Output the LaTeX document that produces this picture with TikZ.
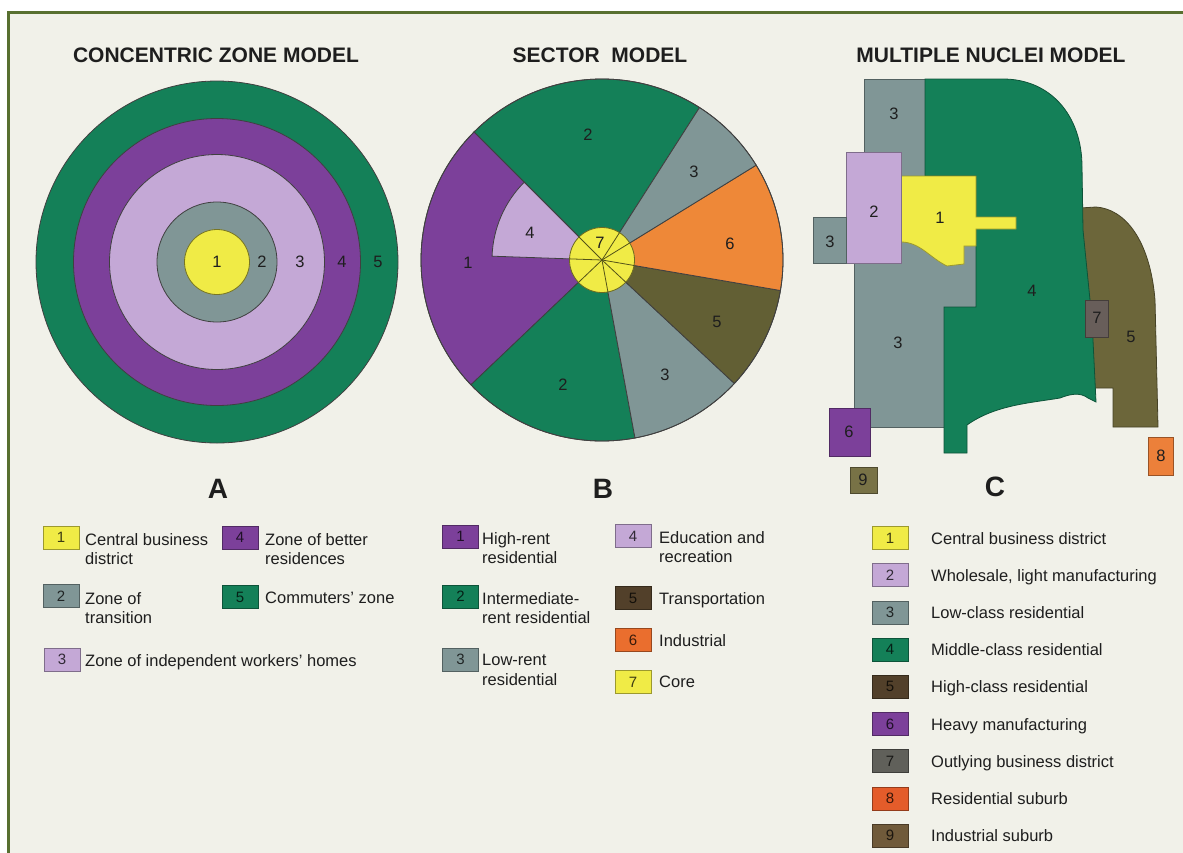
\documentclass[tikz,border=0pt]{standalone}
\usepackage{fontspec}
\setmainfont{Liberation Sans}
\definecolor{paper}{RGB}{241,241,233}
\definecolor{frame}{RGB}{88,112,48}
\definecolor{ink}{RGB}{30,30,30}
\definecolor{cbd}{RGB}{240,235,70}
\definecolor{transit}{RGB}{128,150,150}
\definecolor{lilac}{RGB}{196,168,214}
\definecolor{violet}{RGB}{124,64,154}
\definecolor{forest}{RGB}{20,128,88}
\definecolor{amber}{RGB}{238,136,56}
\definecolor{olivezone}{RGB}{98,95,52}
\definecolor{olivemap}{RGB}{108,102,58}
\definecolor{brownkey}{RGB}{82,64,42}
\definecolor{brownnine}{RGB}{112,90,58}
\definecolor{olivenine}{RGB}{120,114,70}
\definecolor{slate}{RGB}{104,94,90}
\definecolor{slatekey}{RGB}{96,96,90}
\definecolor{suburb}{RGB}{236,128,58}
\definecolor{suburbkey}{RGB}{228,92,42}
\definecolor{orangekey}{RGB}{234,110,46}
\begin{document}
\begin{tikzpicture}[x=1pt,y=-1pt,
  title/.style={font=\bfseries\fontsize{21}{21}\selectfont, text=ink, inner sep=0},
  panel/.style={font=\bfseries\fontsize{28}{28}\selectfont, text=ink, inner sep=0},
  num/.style={font=\fontsize{16.5}{16.5}\selectfont, text=ink, inner sep=0},
  edge/.style={draw=ink!85, line width=0.8pt},
  region/.style={fill=#1, draw=#1!65!black, line width=0.8pt},
  keybox/.style={draw=#1!65!black, line width=0.6pt, fill=#1, minimum width=36pt,
    minimum height=23pt, inner sep=0, font=\fontsize{15}{15}\selectfont, text=#1!25!black},
  keytext/.style={anchor=north west, align=left, inner sep=0,
    font=\fontsize{16.5}{19.5}\selectfont, text=ink},
]
\useasboundingbox (0,0) rectangle (1183,852);
% page and frame
\fill[white] (0,0) rectangle (1183,852);
\fill[paper] (8,12) rectangle (1190,860);
\draw[frame, line width=3pt] (8,860) -- (8,12) -- (1190,12);

% ---------- titles ----------
\node[title] (titleA) at (216,55) {CONCENTRIC ZONE MODEL};
\node[title] (titleB) at (600,55) {SECTOR\ \ MODEL};
\node[title] (titleC) at (991,55) {MULTIPLE NUCLEI MODEL};

% ---------- A: concentric zones ----------
\begin{scope}[shift={(217,262)}]
  \filldraw[edge, fill=forest] (0,0) circle[radius=181];
  \filldraw[edge, fill=violet] (0,0) circle[radius=143.5];
  \filldraw[edge, fill=lilac] (0,0) circle[radius=107.5];
  \filldraw[edge, fill=transit] (0,0) circle[radius=60];
  \filldraw[draw=cbd!50!black, line width=0.8pt, fill=cbd] (0,0) circle[radius=32.5];
\end{scope}
\node[num] (a1) at (217,262) {1};
\node[num] (a2) at (262,262) {2};
\node[num] (a3) at (300,262) {3};
\node[num] (a4) at (342,262) {4};
\node[num] (a5) at (378,262) {5};

% ---------- B: sectors ----------
\begin{scope}[shift={(602,260)}, yscale=-1]
  \filldraw[edge, fill=forest] (0,0) -- (57.4:181) arc[start angle=57.4, end angle=135, radius=181] -- cycle;
  \filldraw[edge, fill=violet] (0,0) -- (135:181) arc[start angle=135, end angle=223.6, radius=181] -- cycle;
  \filldraw[edge, fill=forest] (0,0) -- (223.6:181) arc[start angle=223.6, end angle=280.5, radius=181] -- cycle;
  \filldraw[edge, fill=transit] (0,0) -- (280.5:181) arc[start angle=280.5, end angle=317, radius=181] -- cycle;
  \filldraw[edge, fill=olivezone] (0,0) -- (317:181) arc[start angle=317, end angle=350.3, radius=181] -- cycle;
  \filldraw[edge, fill=amber] (0,0) -- (-9.7:181) arc[start angle=-9.7, end angle=31.6, radius=181] -- cycle;
  \filldraw[edge, fill=transit] (0,0) -- (31.6:181) arc[start angle=31.6, end angle=57.4, radius=181] -- cycle;
  \filldraw[edge, fill=lilac] (0,0) -- (135:110) arc[start angle=135, end angle=178, radius=110] -- cycle;
  \draw[edge] (0,0) circle[radius=181];
  % core with the sector rays running through it
  \filldraw[draw=cbd!45!black, line width=0.8pt, fill=cbd] (0,0) circle[radius=32.5];
  \foreach \a in {57.4,135,178,223.6,280.5,317,350.3,31.6}
    \draw[cbd!35!black, line width=0.8pt] (0,0) -- (\a:32.5);
\end{scope}
\node[num] (b2t) at (588,135) {2};
\node[num] (b3t) at (694,172) {3};
\node[num] (b6)  at (730,244) {6};
\node[num] (b5)  at (717,322) {5};
\node[num] (b3b) at (665,375) {3};
\node[num] (b2b) at (563,385) {2};
\node[num] (b1)  at (468,263) {1};
\node[num] (b4)  at (530,233) {4};
\node[num] (b7)  at (600,243) {7};

% ---------- C: multiple nuclei ----------
\filldraw[region=transit] (864,79) -- (925,79) -- (925,176) -- (976,176) -- (976,307)
  -- (944,307) -- (944,427) -- (854,427) -- (854,200) -- (864,200) -- cycle;
\filldraw[region=olivemap] (1080,208) -- (1096,207) .. controls (1125,209) and (1150,240) .. (1155,300)
  -- (1158,427) -- (1113,427) -- (1113,388) -- (1090,388) -- (1085,300) -- cycle;
\filldraw[region=forest] (925,79) -- (1003,79) .. controls (1050,79) and (1082,115) .. (1082,167)
  -- (1083,230) -- (1092,320) -- (1096,402) -- (1088,398)
  .. controls (1080,392) and (1070,394) .. (1060,398)
  .. controls (1030,403) and (995,405) .. (967,425)
  -- (967,453) -- (944,453) -- (944,307) -- (976,307) -- (976,176) -- (925,176) -- cycle;
\filldraw[region=cbd] (901,176) -- (976,176) -- (976,217) -- (1016,217) -- (1016,229)
  -- (976,229) -- (976,246) -- (964,246) -- (964,264) -- (947,266)
  .. controls (930,258) and (920,242) .. (901,242) -- cycle;
\filldraw[region=lilac] (846,152) rectangle (901,263);
\filldraw[region=transit] (813,217) rectangle (846,263);
\filldraw[region=slate] (1085,300) rectangle (1108,337);
\filldraw[region=violet] (829,408) rectangle (870,456);
\filldraw[region=olivenine] (850,467) rectangle (877,493);
\filldraw[region=suburb] (1148,437) rectangle (1173,475);
\node[num] (c3t) at (894,114) {3};
\node[num] (c2)  at (874,212) {2};
\node[num] (c1)  at (940,218) {1};
\node[num] (c3s) at (830,242) {3};
\node[num] (c4)  at (1032,291) {4};
\node[num] (c3b) at (898,343) {3};
\node[num] (c7)  at (1097,318) {7};
\node[num] (c5)  at (1131,337) {5};
\node[num] (c6)  at (849,432) {6};
\node[num] (c9)  at (863,480) {9};
\node[num] (c8)  at (1161,456) {8};

% ---------- panel letters ----------
\node[panel] (pA) at (218,489) {A};
\node[panel] (pB) at (603,489) {B};
\node[panel] (pC) at (995,487) {C};

% ---------- key A ----------
\node[keybox=cbd]     (ka1) at (61,537.5) {1};
\node[keytext] (la1) at (85,533) {Central business\\district};
\node[keybox=violet]  (ka4) at (240,537.5) {4};
\node[keytext] (la4) at (265,533) {Zone of better\\residences};
\node[keybox=transit] (ka2) at (61,596) {2};
\node[keytext] (la2) at (85,592) {Zone of\\transition};
\node[keybox=forest]  (ka5) at (240,597) {5};
\node[keytext] (la5) at (265,592) {Commuters' zone};
\node[keybox=lilac]   (ka3) at (62,659.5) {3};
\node[keytext] (la3) at (85,654) {Zone of independent workers' homes};

% ---------- key B ----------
\node[keybox=violet]    (kb1) at (460.5,536.5) {1};
\node[keytext] (lb1) at (482,532) {High-rent\\residential};
\node[keybox=forest]    (kb2) at (460.5,596.5) {2};
\node[keytext] (lb2) at (482,592) {Intermediate-\\rent residential};
\node[keybox=transit]   (kb3) at (460.5,659.5) {3};
\node[keytext] (lb3) at (482,654) {Low-rent\\residential};
\node[keybox=lilac]     (kb4) at (633,536) {4};
\node[keytext] (lb4) at (659,531) {Education and\\recreation};
\node[keybox=brownkey]  (kb5) at (633,598) {5};
\node[keytext] (lb5) at (659,592) {Transportation};
\node[keybox=orangekey] (kb6) at (633,640) {6};
\node[keytext] (lb6) at (659,634) {Industrial};
\node[keybox=cbd]       (kb7) at (633,682) {7};
\node[keytext] (lb7) at (659,676) {Core};

% ---------- key C ----------
\foreach \i/\c/\t in {1/cbd/Central business district,
                      2/lilac/{Wholesale, light manufacturing},
                      3/transit/Low-class residential,
                      4/forest/Middle-class residential,
                      5/brownkey/High-class residential,
                      6/violet/Heavy manufacturing,
                      7/slatekey/Outlying business district,
                      8/suburbkey/Residential suburb,
                      9/brownnine/Industrial suburb}{
  \node[keybox=\c] (kc\i) at (890,{538+37.2*(\i-1)}) {\i};
  \node[keytext] (lc\i) at (931,{532+37.2*(\i-1)}) {\t};
}
\end{tikzpicture}
\end{document}
